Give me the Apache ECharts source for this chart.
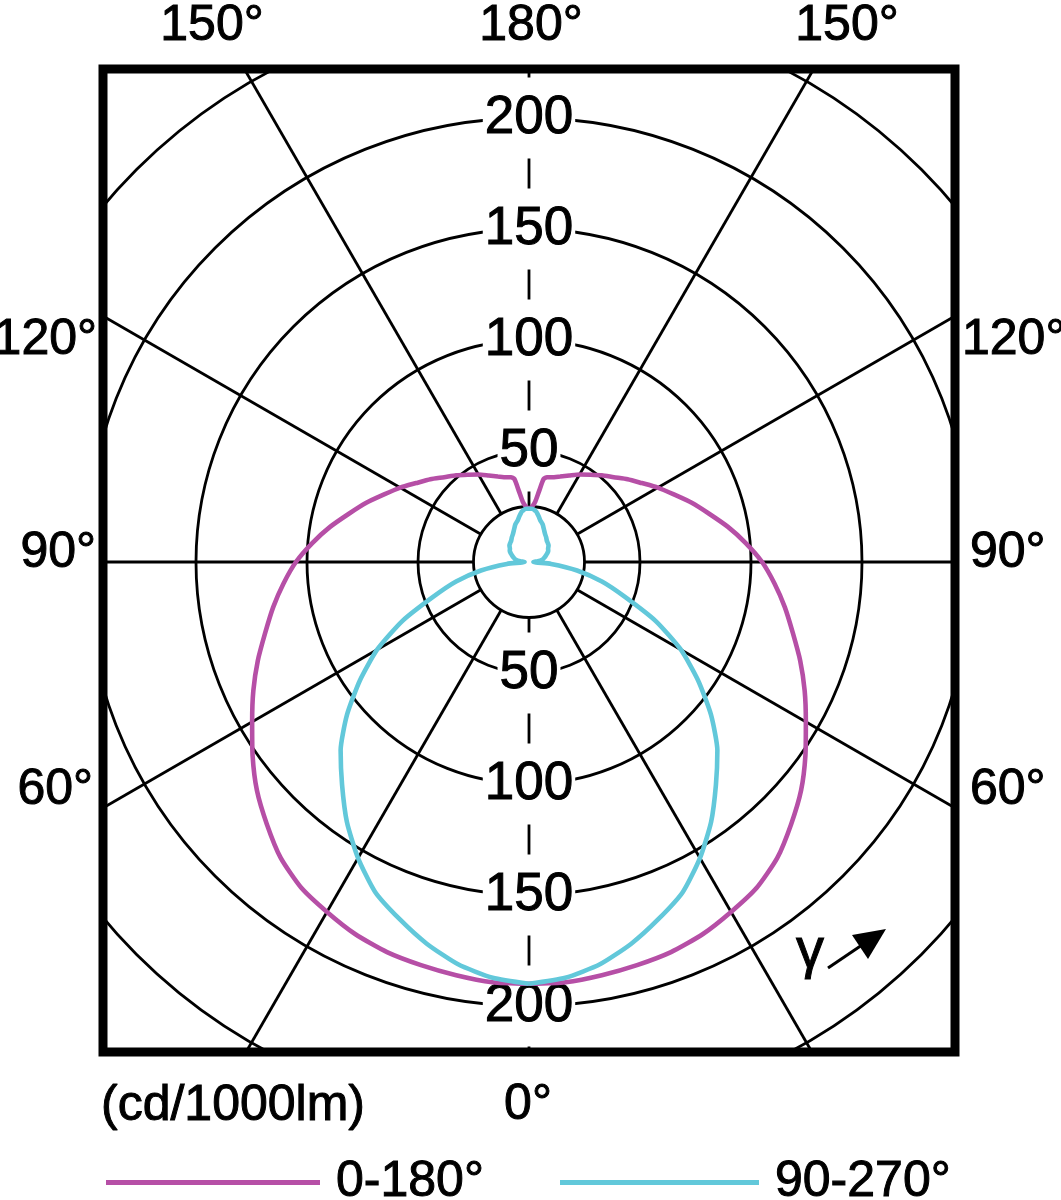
<!DOCTYPE html>
<html>
<head>
<meta charset="utf-8">
<script src="https://cdn.jsdelivr.net/npm/echarts@6/dist/echarts.min.js"></script>
<style>
html,body{margin:0;padding:0;background:#fff;}
#chart{width:1061px;height:1200px;}
</style>
</head>
<body>
<div id="chart"></div>
<script>
// ---------- data ----------
const gammaAngles = [0,5,10,15,20,25,30,35,40,45,50,55,60,65,70,75,80,85,90,95,100,105,110,115,120,125,130,135,140,145,150,155,160,165,168,170,172,174,176,178,180];
const values0to180 = [190,190,189,188,187,185,182,179,174,167,160,152,144,137,130,123,117,111,105,98,91,84,78,72,67,62,58,54,51,48,45.5,43,41,39.5,39,38,32,27.5,25.5,24.5,24];
const values90to270 = [190,188,184,178,171,164,154,143,131,120,107,93,79,63,46,34,22,10,2,4,6,7,8,9,10,10.5,11.5,12,12.5,13.5,14.5,16,18,19.5,21,22,23,23.5,24,24,24];
const seriesNames = ['0-180°','90-270°'];
const radialTickValues = [50,100,150,200];
const angleTickLabels = ['150°','180°','120°','90°','60°','0°'];
const unitLabel = '(cd/1000lm)';
const gammaLabel = 'γ';

// ---------- layout / style ----------
const CX = 529, CY = 562, K = 2.22, R_MAX = 300, R_INNER = 25;
const FONT = '"Liberation Sans", Arial, sans-serif';
const MAG = '#B64FA6', CYA = '#62C8DA';
const T = 'rgba(0,0,0,0)', B = '#000';
const GRID_W = 2.8;

function closedLoop(vals) {
  const left = gammaAngles.map((g, i) => [vals[i], g]);
  const right = [];
  for (let i = gammaAngles.length - 1; i >= 0; i--) right.push([vals[i], 360 - gammaAngles[i]]);
  return left.concat(right);
}

const hiddenAxisParts = {
  axisLine: {show: false}, axisTick: {show: false}, axisLabel: {show: false}
};

const chart = echarts.init(document.getElementById('chart'), null, {renderer: 'canvas'});

const txt = (text, x, y, align, size, extra) => Object.assign({
  type: 'text', z: 150, x: x, y: y,
  style: {text: text, fill: '#000', stroke: '#000', lineWidth: 1,
    font: (size || 50) + 'px ' + FONT, align: align, verticalAlign: 'middle'}
}, extra || {});

const legendText = {fontSize: 50, fontFamily: FONT, color: '#000', textBorderColor: '#000', textBorderWidth: 1,
  padding: [0, 0, 20, 11]};

const option = {
  animation: false,
  backgroundColor: '#fff',
  polar: [
    {center: [CX, CY], radius: [0, R_MAX * K]},
    {center: [CX, CY], radius: [R_INNER * K, R_MAX * K]},
    {center: [CX, CY], radius: [R_INNER * K, R_MAX * K]}
  ],
  angleAxis: [
    Object.assign({polarIndex: 0, type: 'value', min: 0, max: 360, startAngle: 270, clockwise: true,
      splitLine: {show: false}}, hiddenAxisParts),
    Object.assign({polarIndex: 1, type: 'value', min: 0, max: 360, interval: 30, startAngle: 270, clockwise: true,
      splitLine: {show: true, lineStyle: {color: [T,B,B,B,B,B,T,B,B,B,B,B], width: GRID_W}}}, hiddenAxisParts),
    Object.assign({polarIndex: 2, type: 'value', min: 0, max: 360, interval: 180, startAngle: 270, clockwise: true,
      splitLine: {show: true, lineStyle: {color: B, width: GRID_W, type: [30, 25.5], dashOffset: 15}}}, hiddenAxisParts)
  ],
  radiusAxis: [
    Object.assign({polarIndex: 0, type: 'value', min: 0, max: R_MAX, interval: 25,
      splitLine: {show: true, lineStyle: {color: [T,B,B,T,B,T,B,T,B,T,B,T,B], width: GRID_W}}}, hiddenAxisParts),
    Object.assign({polarIndex: 1, type: 'value', min: 0, max: 1, splitLine: {show: false}}, hiddenAxisParts),
    Object.assign({polarIndex: 2, type: 'value', min: 0, max: 1, splitLine: {show: false}}, hiddenAxisParts)
  ],
  legend: [
    {data: [seriesNames[0]], left: 101, top: 1152, icon: 'rect', itemWidth: 214, itemHeight: 5,
      selectedMode: false, z: 200, textStyle: legendText},
    {data: [seriesNames[1]], left: 555, top: 1152, icon: 'rect', itemWidth: 199, itemHeight: 5,
      selectedMode: false, z: 200, textStyle: legendText}
  ],
  series: [
    {type: 'scatter', coordinateSystem: 'polar', polarIndex: 0, silent: true, z: 3,
      data: radialTickValues.flatMap(v => [[v, 180], [v, 0]]),
      symbolSize: 1, itemStyle: {color: '#fff', opacity: 1},
      label: {show: true, position: 'inside', formatter: p => String(p.value[0]),
        fontSize: 53, fontFamily: FONT, color: '#000', textBorderColor: '#000', textBorderWidth: 1,
        backgroundColor: '#fff', padding: [0, 2]}},
    {type: 'line', name: seriesNames[0], coordinateSystem: 'polar', polarIndex: 0, z: 5,
      data: closedLoop(values0to180), symbol: 'none', smooth: 0.2, clip: false,
      lineStyle: {color: MAG, width: 4.6}, itemStyle: {color: MAG}},
    {type: 'line', name: seriesNames[1], coordinateSystem: 'polar', polarIndex: 0, z: 5,
      data: closedLoop(values90to270), symbol: 'none', smooth: 0.2, clip: false,
      lineStyle: {color: CYA, width: 4.6}, itemStyle: {color: CYA}}
  ],
  graphic: {elements: [
    // masks outside the frame
    {type: 'rect', z: 100, shape: {x: 0, y: 0, width: 103, height: 1200}, style: {fill: '#fff'}},
    {type: 'rect', z: 100, shape: {x: 955, y: 0, width: 106, height: 1200}, style: {fill: '#fff'}},
    {type: 'rect', z: 100, shape: {x: 0, y: 0, width: 1061, height: 69}, style: {fill: '#fff'}},
    {type: 'rect', z: 100, shape: {x: 0, y: 1052, width: 1061, height: 148}, style: {fill: '#fff'}},
    // frame
    {type: 'rect', z: 120, shape: {x: 103, y: 69, width: 852, height: 983}, style: {fill: null, stroke: '#000', lineWidth: 9}},
    // angle labels
    txt(angleTickLabels[0], 212, 26, 'center'),
    txt(angleTickLabels[1], 531, 26, 'center'),
    txt(angleTickLabels[0], 847, 26, 'center'),
    txt(angleTickLabels[2], 97, 340, 'right'),
    txt(angleTickLabels[2], 962, 340, 'left'),
    txt(angleTickLabels[3], 96, 553, 'right'),
    txt(angleTickLabels[3], 970, 553, 'left'),
    txt(angleTickLabels[4], 93, 790, 'right'),
    txt(angleTickLabels[4], 970, 790, 'left'),
    txt(angleTickLabels[5], 528, 1105, 'center'),
    txt(unitLabel, 101, 1106, 'left'),
    // gamma direction marker
    txt(gammaLabel, 810, 952, 'center', 56),
    {type: 'line', z: 150, shape: {x1: 828, y1: 968, x2: 862, y2: 945}, style: {stroke: '#000', lineWidth: 3}},
    {type: 'polygon', z: 150, shape: {points: [[886, 929], [852, 935], [868, 959]]}, style: {fill: '#000'}}
  ]}
};

chart.setOption(option);
</script>
</body>
</html>
